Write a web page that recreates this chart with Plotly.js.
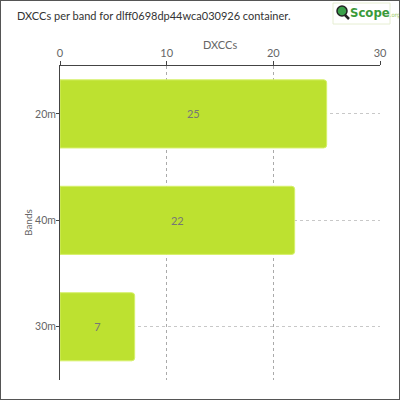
<!DOCTYPE html>
<html>
<head>
<meta charset="utf-8">
<script src="https://cdn.plot.ly/plotly-3.0.1.min.js"></script>
<style>
  html, body { margin: 0; padding: 0; background: #fff; }
  #wrap { position: relative; width: 400px; height: 400px; }
  #frame { position: absolute; left: 0; top: 0; width: 400px; height: 400px; box-sizing: border-box;
           border: 1.5px solid #555; pointer-events: none; }
</style>
</head>
<body>
<div id="wrap">
  <div id="chart" style="width:400px;height:400px;"></div>
  <div id="frame"></div>
</div>
<script>
// chart data
const bands = ['20m', '40m', '30m'];
const dxccs = [25, 22, 7];
const xTicks = [0, 10, 20, 30];

const FONT = 'Lato, "Open Sans", sans-serif';
const M = { l: 60, r: 20, t: 66, b: 20 };
const W = 400, H = 400;
const PW = W - M.l - M.r, PH = H - M.t - M.b;
// pixel -> paper coords, for decorations outside the plot area
const px = (x) => (x - M.l) / PW;
const py = (y) => (H - M.b - y) / PH;

const trace = {
  type: 'bar', orientation: 'h',
  x: dxccs, y: bands,
  text: dxccs.map(String),
  textposition: 'inside', insidetextanchor: 'middle',
  textfont: { family: FONT, size: 11, color: '#777' },
  marker: { color: '#bde130', cornerradius: 3, line: { color: '#d6f06a', width: 1 } },
  width: 0.64,
  hoverinfo: 'none',
};

const layout = {
  width: W, height: H,
  margin: M,
  paper_bgcolor: '#fff', plot_bgcolor: '#fff',
  showlegend: false,
  font: { family: FONT, size: 11, color: '#666' },
  title: {
    text: 'DXCCs per band for dlff0698dp44wca030926 container.',
    x: 17 / W, xanchor: 'left', y: 1 - 16 / H, yanchor: 'middle',
    font: { family: FONT, size: 11, color: '#333' },
  },
  xaxis: {
    side: 'top', range: [0, 30], tickvals: xTicks,
    ticks: 'outside', ticklen: 4, tickcolor: '#444',
    showline: true, linecolor: '#444', linewidth: 1,
    showgrid: true, gridcolor: '#aaa', griddash: '3px,3px', gridwidth: 1,
    zeroline: false,
    tickfont: { family: FONT, size: 11, color: '#666' },
  },
  yaxis: {
    type: 'category', categoryorder: 'array', categoryarray: bands,
    range: [2.5, -0.45],
    ticks: 'outside', ticklen: 3, tickcolor: '#444',
    ticklabelstandoff: -2,
    showline: true, linecolor: '#444', linewidth: 1,
    showgrid: true, gridcolor: '#c8c8c8', griddash: '3px,3px', gridwidth: 1,
    tickfont: { family: FONT, size: 10.5, color: '#666' },
  },
  shapes: [
    // logo box
    { type: 'rect', xref: 'paper', yref: 'paper', x0: px(333), x1: px(390), y0: py(24), y1: py(3),
      line: { color: '#e6eed2', width: 1 }, fillcolor: '#fff', layer: 'above' },
    // magnifier handle
    { type: 'line', xref: 'paper', yref: 'paper', x0: px(345), y0: py(15), x1: px(349), y1: py(19),
      line: { color: '#222', width: 2.5 }, layer: 'above' },
    // magnifier globe
    { type: 'circle', xref: 'paper', yref: 'paper', x0: px(337), x1: px(347), y0: py(16), y1: py(6),
      line: { color: '#222', width: 1.5 }, fillcolor: '#3aa04a', layer: 'above' },
  ],
  annotations: [
    // axis titles placed by hand (closer than Plotly's standoff allows)
    { xref: 'paper', yref: 'paper', x: 0.5, y: py(45), xanchor: 'center', yanchor: 'middle',
      showarrow: false, text: 'DXCCs', font: { family: FONT, size: 11, color: '#666' } },
    { xref: 'paper', yref: 'paper', x: px(28), y: 0.5, xanchor: 'center', yanchor: 'middle',
      textangle: -90, showarrow: false, text: 'Bands', font: { family: FONT, size: 10, color: '#666' } },
    // logo text
    { xref: 'paper', yref: 'paper', x: px(348), y: py(12), xanchor: 'left', yanchor: 'middle',
      showarrow: false,
      text: '<b>Scope</b><span style="font-size:6px;color:#9ccc60">.org</span>',
      font: { family: '"Liberation Sans Narrow", "DejaVu Sans Condensed", sans-serif', size: 13, color: '#3a9a3a' } },
  ],
};

Plotly.newPlot('chart', [trace], layout, { staticPlot: true, displayModeBar: false });
</script>
</body>
</html>
